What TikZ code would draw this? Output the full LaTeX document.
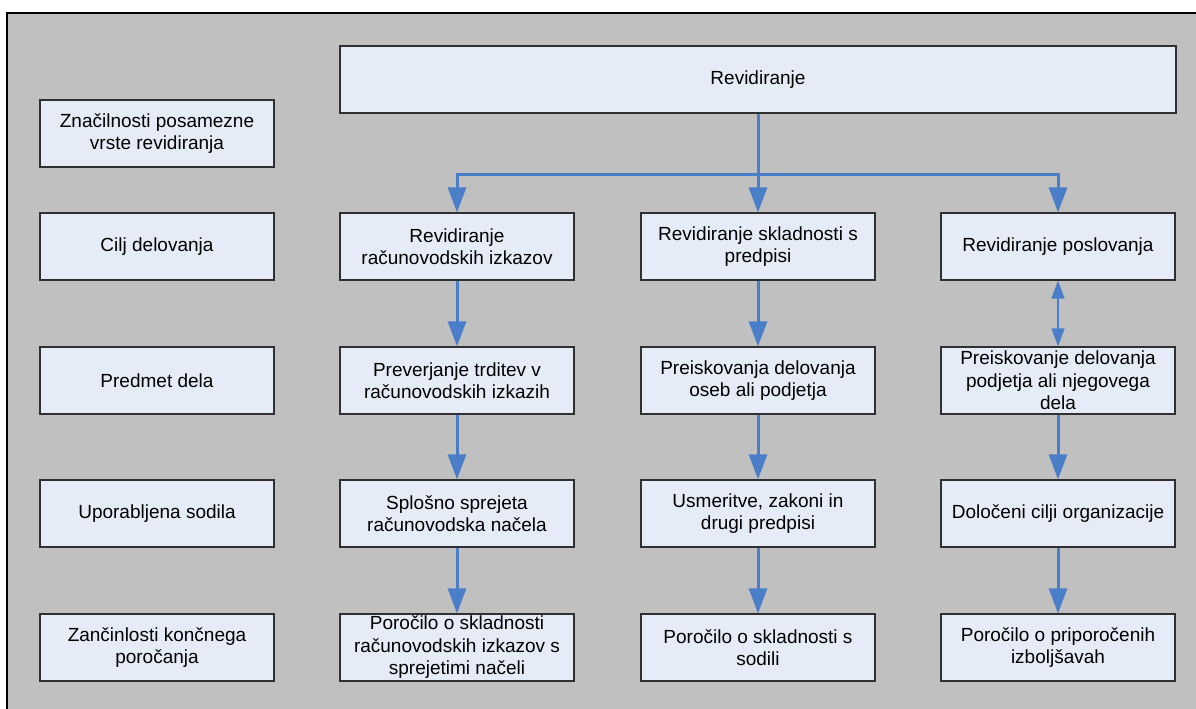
\documentclass[tikz,border=0pt]{standalone}
\usepackage{fontspec}
\setmainfont{Liberation Sans}
\usetikzlibrary{arrows.meta}
\definecolor{panel}{HTML}{C0C0C0}
\definecolor{boxfill}{HTML}{E6ECF7}
\definecolor{boxline}{HTML}{303030}
\definecolor{flow}{HTML}{4A7EC8}
\tikzset{
  box/.style={draw=boxline, line width=1.2pt, fill=boxfill, minimum width=234pt,
    minimum height=67pt, inner sep=2pt, align=center,
    font=\fontsize{19}{22.5}\selectfont},
  arr/.style={draw=flow, line width=3pt, -{Triangle[width=18pt,length=25pt]}},
  twoway/.style={draw=flow, line width=1.6pt,
    {Triangle[width=13pt,length=18pt]}-{Triangle[width=13pt,length=18pt]}},
}
\begin{document}
\begin{tikzpicture}[x=1pt,y=-1pt]
\useasboundingbox (0,0) rectangle (1196,709);
% grey panel with its frame on the top and left
\fill[panel] (7,13) rectangle (1197,710);
\draw[line width=1.2pt] (7,710) -- (7,13) -- (1197,13);

% top box
\node[box, minimum width=836pt] (top) at (758,79.5) {Revidiranje};

% left column: row headings
\node[box] (h0) at (157,133.5) {Značilnosti posamezne\\vrste revidiranja};
\node[box] (h1) at (157,246.5) {Cilj delovanja};
\node[box] (h2) at (157,380.5) {Predmet dela};
\node[box] (h3) at (157,513.5) {Uporabljena sodila};
\node[box] (h4) at (157,647.5) {Zančinlosti končnega\\poročanja};

% first column
\node[box] (a1) at (457,246.5) {Revidiranje\\računovodskih izkazov};
\node[box] (a2) at (457,380.5) {Preverjanje trditev v\\računovodskih izkazih};
\node[box] (a3) at (457,513.5) {Splošno sprejeta\\računovodska načela};
\node[box] (a4) at (457,647.5) {Poročilo o skladnosti\\računovodskih izkazov s\\sprejetimi načeli};

% second column
\node[box] (b1) at (758,246.5) {Revidiranje skladnosti s\\predpisi};
\node[box] (b2) at (758,380.5) {Preiskovanja delovanja\\oseb ali podjetja};
\node[box] (b3) at (758,513.5) {Usmeritve, zakoni in\\drugi predpisi};
\node[box] (b4) at (758,647.5) {Poročilo o skladnosti s\\sodili};

% third column
\node[box] (c1) at (1058,246.5) {Revidiranje poslovanja};
\node[box] (c2) at (1058,380.5) {Preiskovanje delovanja\\podjetja ali njegovega\\dela};
\node[box] (c3) at (1058,513.5) {Določeni cilji organizacije};
\node[box] (c4) at (1058,647.5) {Poročilo o priporočenih\\izboljšavah};

% branching from the top box
\coordinate (fork) at (758,174);
\draw[arr] (top.south) -- (b1.north);
\draw[arr] (fork) -| (a1.north);
\draw[arr] (fork) -| (c1.north);

% vertical flows
\draw[arr] (a1.south) -- (a2.north);
\draw[arr] (a2.south) -- (a3.north);
\draw[arr] (a3.south) -- (a4.north);
\draw[arr] (b1.south) -- (b2.north);
\draw[arr] (b2.south) -- (b3.north);
\draw[arr] (b3.south) -- (b4.north);
\draw[twoway] (c1.south) -- (c2.north);
\draw[arr] (c2.south) -- (c3.north);
\draw[arr] (c3.south) -- (c4.north);
\end{tikzpicture}
\end{document}
